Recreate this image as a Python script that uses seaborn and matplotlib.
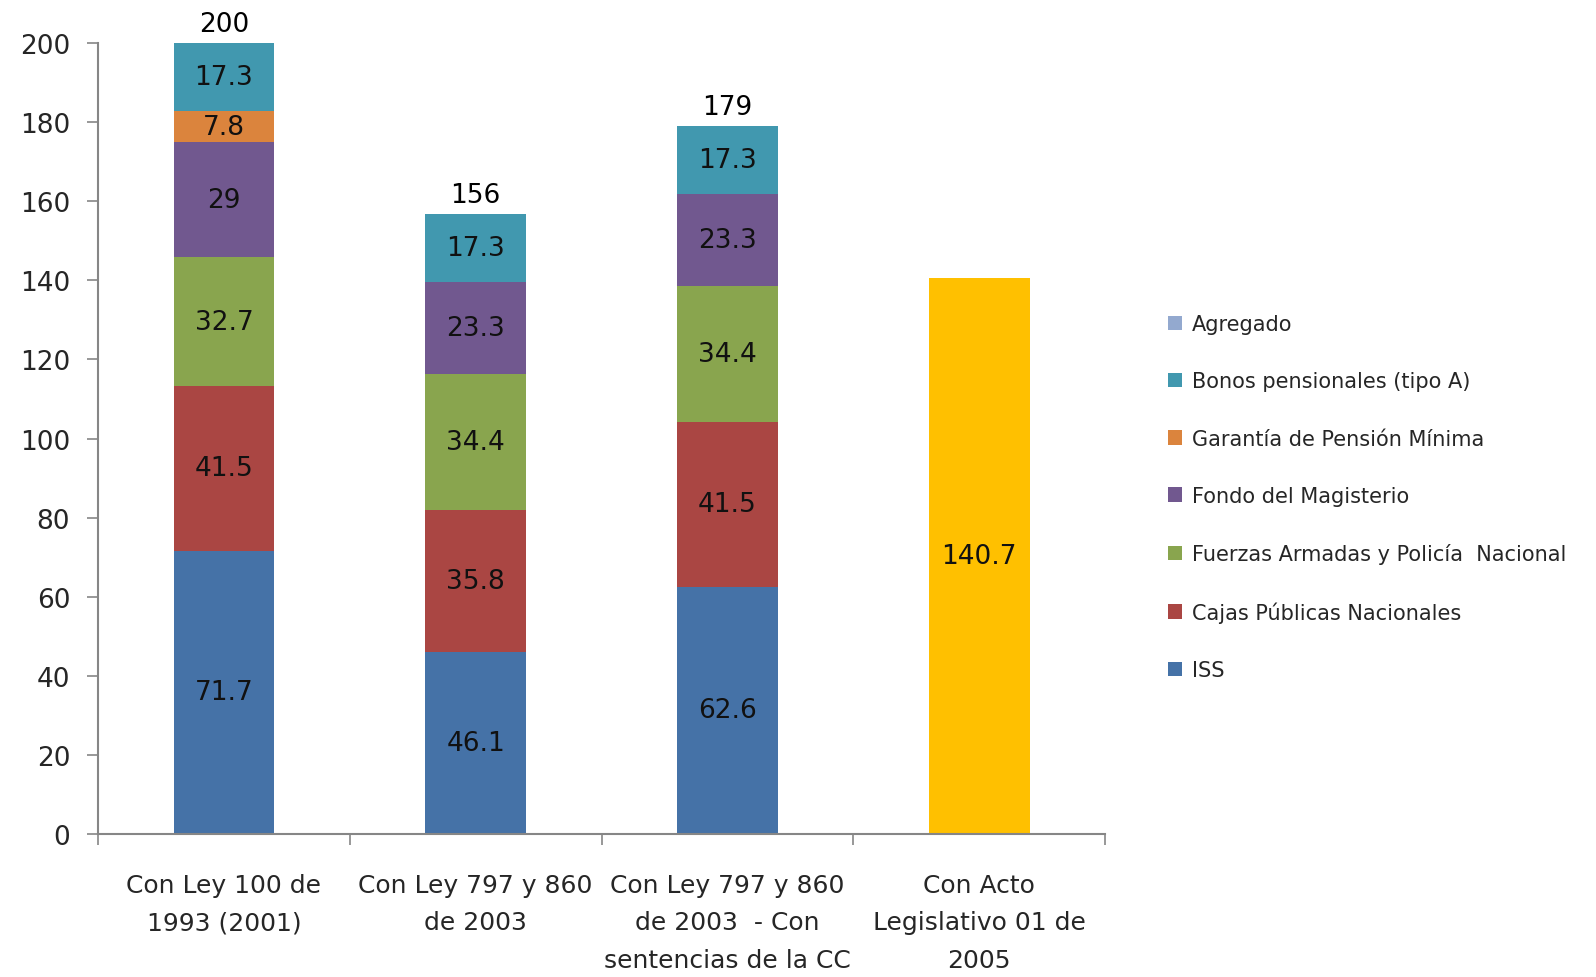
"""
Costo fiscal de las reformas pensionales - barras apiladas
"""

import numpy as np
import pandas as pd
import matplotlib
matplotlib.use('Agg')
import matplotlib.pyplot as plt
import seaborn as sns
from matplotlib.patches import Patch

sns.set_style("white")
plt.rcParams['font.family'] = ['DejaVu Sans']

# datos
categories = ['Con Ley 100 de\n1993 (2001)',
              'Con Ley 797 y 860\nde 2003',
              'Con Ley 797 y 860\nde 2003  - Con\nsentencias de la CC',
              'Con Acto\nLegislativo 01 de\n2005']
series_names = ['ISS', 'Cajas Públicas Nacionales', 'Fuerzas Armadas y Policía  Nacional',
                'Fondo del Magisterio', 'Garantía de Pensión Mínima',
                'Bonos pensionales (tipo A)', 'Agregado']
iss = [71.7, 46.1, 62.6, 0]
cajas = [41.5, 35.8, 41.5, 0]
fuerzas = [32.7, 34.4, 34.4, 0]
fondo = [29, 23.3, 23.3, 0]
garantia = [7.8, 0, 0, 0]
bonos = [17.3, 17.3, 17.3, 0]
agregado = [0, 0, 0, 140.7]
total_labels = ['200', '156', '179', '']

series_vals = [iss, cajas, fuerzas, fondo, garantia, bonos, agregado]
colors = ['#4572A7', '#AA4643', '#89A54E', '#71588F', '#DB843D', '#4198AF', '#FFC000']
legend_colors = colors[:-1] + ['#93A9CF']

df = pd.DataFrame(dict(zip(series_names, series_vals)), index=categories)
cum = df.cumsum(axis=1)

fig = plt.figure(figsize=(15.96, 9.78), dpi=100)
ax = fig.add_axes([0.0614, 0.146, 0.631, 0.809])

# apilado: dibujar acumulados de arriba hacia abajo
for name, col in reversed(list(zip(series_names, colors))):
    sns.barplot(x=categories, y=cum[name].values, color=col, width=0.4,
                ax=ax, saturation=1, linewidth=0)

# etiquetas de valores
for i, cat in enumerate(categories):
    base = 0
    for name in series_names:
        v = df.loc[cat, name]
        if v > 0:
            ax.text(i, base + v / 2, f"{v:g}", ha='center', va='center',
                    fontsize=19, color='#111111')
        base += v
    if total_labels[i]:
        ax.text(i, base + 1.5, total_labels[i], ha='center', va='bottom',
                fontsize=19, color='black')

ax.set_ylim(0, 200)
ax.set_xlim(-0.5, 3.5)
ax.set_yticks(np.arange(0, 201, 20))
ax.tick_params(axis='y', labelsize=19, length=8, width=1.2, color='#868686',
               direction='out', left=True, pad=12)
ax.set_xticks(range(len(categories)))
ax.set_xticklabels(categories, fontsize=18, linespacing=1.7)
ax.tick_params(axis='x', length=0, pad=28)
ax.set_xticks(np.arange(-0.5, 4, 1), minor=True)
ax.tick_params(axis='x', which='minor', length=8, width=1.2, color='#868686',
               direction='out', bottom=True)

for s in ['top', 'right']:
    ax.spines[s].set_visible(False)
for s in ['left', 'bottom']:
    ax.spines[s].set_color('#868686')
    ax.spines[s].set_linewidth(1.5)
ax.set_xlabel('')
ax.set_ylabel('')

handles = [Patch(facecolor=c, edgecolor='none', label=n) for n, c in zip(series_names, legend_colors)]
fig.legend(handles[::-1], series_names[::-1], loc='upper left', bbox_to_anchor=(0.720, 0.697),
           frameon=False, fontsize=15, handlelength=0.7, handleheight=0.7,
           labelspacing=1.79, handletextpad=0.45)

fig.savefig('out.png', dpi=100)
